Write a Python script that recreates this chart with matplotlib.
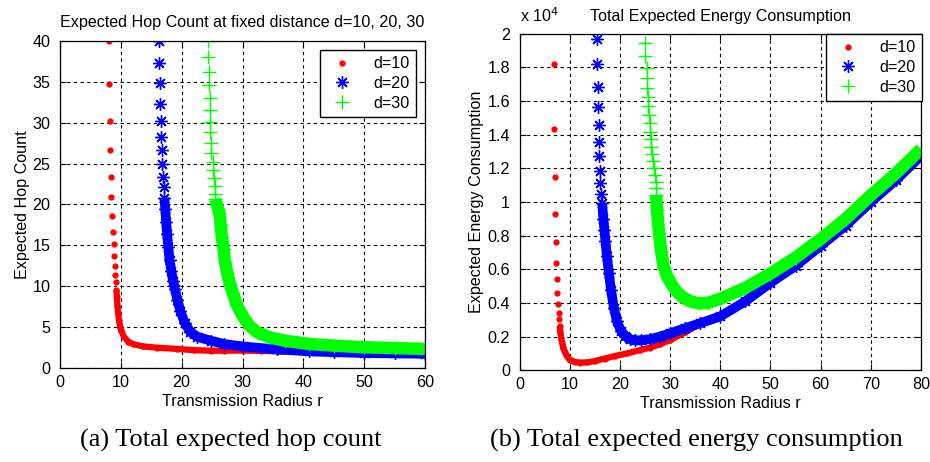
import matplotlib
matplotlib.use("Agg")
import matplotlib.pyplot as plt
from matplotlib.ticker import FuncFormatter

plt.rcParams['font.family'] = ['Liberation Sans', 'DejaVu Sans']

# ---- panel (a): expected hop count vs transmission radius ----
hop_r10 = [8.05, 8.12, 8.18, 8.24, 8.35, 8.45, 8.6, 8.7, 8.8, 8.9, 9.0, 9.1, 9.2, 9.28,
           9.35, 9.45, 9.55, 9.7, 9.9, 10.1, 10.5, 11.2, 12, 13.7, 16, 19.2, 22, 24.8, 27,
           30, 33, 36, 40, 45, 50, 55, 60]
hop_d10 = [40.0, 34.7, 30.2, 26.6, 23.4, 20.9, 18.6, 16.6, 15.1, 13.7, 12.4, 11.3, 10.5, 9.5,
           8.6, 7.6, 6.7, 5.8, 5.0, 4.5, 3.8, 3.2, 2.9, 2.6, 2.45, 2.3, 2.15, 2.08, 2.08,
           2.1, 2.05, 2.0, 1.95, 1.85, 1.8, 1.7, 1.65]

hop_r20 = [16.2, 16.3, 16.4, 16.45, 16.6, 16.65, 16.75, 16.8, 16.95, 17.05, 17.15,
           17.3, 17.45, 17.6, 17.8, 18.0, 18.3, 18.6, 18.9, 19.3, 19.8, 20.5, 21.4, 22.5,
           24.8, 27, 30, 35.6, 41, 45, 50, 55, 60]
hop_d20 = [40.0, 37.3, 34.8, 32.3, 30.2, 28.3, 26.6, 24.9, 23.4, 22.1, 20.8,
           19.4, 17.8, 16.4, 14.8, 13.2, 11.8, 10.6, 9.6, 8.3, 6.9, 5.5, 4.4, 3.8,
           3.3, 2.9, 2.6, 2.25, 2.0, 1.9, 1.8, 1.75, 1.7]

hop_r30 = [24.4, 24.4, 24.5, 24.5, 24.6, 24.6, 24.7, 24.7, 24.9, 24.9, 25.1, 25.2, 25.3,
           25.4, 25.5, 25.5,
           26.2, 26.4, 26.6, 26.9, 27.1, 27.5, 27.9, 28.4, 29, 29.6, 30.3, 31.2, 32.5,
           34.5, 37, 41, 45, 50, 55, 60]
hop_d30 = [40.0, 38.0, 36.2, 34.6, 33.0, 31.6, 30.1, 28.8, 27.5, 26.3, 25.2, 24.2, 23.2,
           22.2, 21.3, 20.6,
           19.0, 17.5, 16.0, 14.5, 13.0, 11.6, 10.3, 9.2, 7.8, 6.9, 6.0, 5.1, 4.3,
           3.7, 3.3, 2.9, 2.7, 2.5, 2.4, 2.3]

# ---- panel (b): total expected energy consumption ----
en_r10 = [6.8, 6.9, 7.1, 7.15, 7.3, 7.35, 7.4, 7.5, 7.65, 7.8, 7.9, 8.0,
          8.1, 8.3, 8.5, 8.7, 9.0, 9.4, 10.0, 11, 12, 13.5, 15, 17, 19, 21.4, 24, 26,
          28, 30, 33, 36, 40, 45, 50, 55, 60, 65, 70, 75, 80]
en_d10 = [18220, 14360, 11470, 9290, 7640, 6390, 5410, 4580, 3940, 3390, 3030, 2650,
          2290, 1900, 1600, 1350, 1100, 850, 620, 500, 460, 470, 550, 700, 850, 1000, 1200, 1350,
          1550, 1800, 2250, 2780, 3180, 4080, 5180, 6180, 7380, 8580, 9980, 11280, 12720]

en_r20 = [15.45, 15.45, 15.55, 15.7, 15.75, 15.8, 15.85, 15.95, 16.1, 16.3, 16.45,
          16.7, 16.9, 17.1, 17.4, 17.8, 18.2, 18.8, 19.4, 20.2, 21, 22, 23, 24.1, 26, 28,
          30, 33, 36, 40, 45, 50, 55, 60, 65, 70, 75, 80]
en_d20 = [19680, 18180, 16850, 15630, 14570, 13580, 12730, 11860, 11150, 10480, 9920,
          9000, 8340, 7700, 6800, 5760, 4800, 3700, 2900, 2350, 2050, 1850, 1780, 1780, 1850, 2000,
          2200, 2500, 2800, 3200, 4100, 5200, 6200, 7400, 8600, 10000, 11300, 12750]

en_r30 = [25.0, 25.0, 25.3, 25.3, 25.4, 25.55, 25.6, 25.75, 25.9, 25.95, 26.1, 26.2, 26.4,
          26.6, 26.75, 26.95, 27.1, 27.1, 27.2,
          27.4, 27.8, 28.2, 28.7, 29.4, 30.4, 31.4, 32.4, 34, 35.7, 37.5, 40, 45,
          50, 55, 60, 65, 70, 75, 80]
en_d30 = [19430, 18680, 17940, 17350, 16760, 16220, 15700, 15170, 14680, 14180, 13720, 13290,
          12850, 12440, 12000, 11600, 11210, 10810, 10420,
          9500, 8140, 7100, 6160, 5600, 5050, 4650, 4370, 4100, 3980, 4000, 4250, 4900,
          5750, 6700, 7800, 9000, 10400, 11700, 13150]

# index where the markers start to overlap into a solid band
band_a = [14, 11, 16]
band_b = [12, 11, 19]

labels = ['d=10', 'd=20', 'd=30']
colors = ['#ff0000', '#0000ff', '#00ff00']
markers = ['.', (8, 2, 0), '+']
msizes = [7, 9, 10]
bandw = [4.5, 7.0, 9.0]
fs = 11.6

fig = plt.figure(figsize=(9.3, 4.62), dpi=100)
ax1 = fig.add_axes([60 / 930, 1 - 367.7 / 462, 365 / 930, 326.7 / 462])
ax2 = fig.add_axes([519.6 / 930, 1 - 370.3 / 462, 401.4 / 930, 336.6 / 462])


def draw(ax, xs, ys, starts):
    for i, (x, y, k) in enumerate(zip(xs, ys, starts)):
        # markers sit just under their own band so the dense part reads as one stroke
        ax.plot(x, y, linestyle='none', marker=markers[i], color=colors[i],
                markersize=msizes[i], markeredgewidth=1.0, label=labels[i], zorder=2 + 2 * i)
        ax.plot(x[k - 1:], y[k - 1:], color=colors[i], lw=bandw[i], solid_capstyle='butt',
                solid_joinstyle='round', zorder=3 + 2 * i)


def style(ax, pad, anchor):
    ax.grid(True, color='black', linestyle=(0, (3, 3)), linewidth=0.8)
    ax.set_axisbelow(True)
    ax.tick_params(direction='in', top=True, right=True, length=4, labelsize=fs)
    ax.tick_params(axis='y', pad=7)
    ax.tick_params(axis='x', pad=5)
    for s in ax.spines.values():
        s.set_linewidth(0.9)
        s.set_zorder(10)
    leg = ax.legend(loc='upper right', bbox_to_anchor=anchor, fancybox=False,
                    edgecolor='black', framealpha=1, fontsize=fs, borderaxespad=pad,
                    handletextpad=1.0, labelspacing=0.3, handlelength=1.9)
    leg.get_frame().set_linewidth(1.0)
    leg.set_zorder(20)


draw(ax1, [hop_r10, hop_r20, hop_r30], [hop_d10, hop_d20, hop_d30], band_a)
ax1.set_xlim(0, 60)
ax1.set_ylim(0, 40)
ax1.set_xticks(range(0, 61, 10))
ax1.set_yticks(range(0, 41, 5))
style(ax1, 0.55, (1, 1))
ax1.set_title('Expected Hop Count at fixed distance d=10, 20, 30', fontsize=fs, pad=10)
ax1.set_xlabel('Transmission Radius r', fontsize=fs, labelpad=3)
ax1.set_ylabel('Expected Hop Count', fontsize=fs, labelpad=2)

draw(ax2, [en_r10, en_r20, en_r30], [en_d10, en_d20, en_d30], band_b)
ax2.set_xlim(0, 80)
ax2.set_ylim(0, 20000)
ax2.set_xticks(range(0, 81, 10))
ax2.set_yticks(range(0, 20001, 2000))
ax2.yaxis.set_major_formatter(FuncFormatter(lambda v, p: '%g' % (v / 1e4)))
style(ax2, 0.0, (1.003, 1.0))
ax2.set_title('Total Expected Energy Consumption', fontsize=fs, pad=9)
ax2.set_xlabel('Transmission Radius r', fontsize=fs, labelpad=3)
ax2.set_ylabel('Expected Energy Consumption', fontsize=fs, labelpad=2)
ax2.text(0.0, 1.025, 'x 10$^4$', transform=ax2.transAxes, fontsize=fs, ha='left', va='bottom')

fig.text(231 / 930, 1 - 440 / 462, '(a) Total expected hop count', family='Liberation Serif',
         fontsize=19, ha='center', va='center')
fig.text(696 / 930, 1 - 440 / 462, '(b) Total expected energy consumption',
         family='Liberation Serif', fontsize=19, ha='center', va='center')

fig.savefig('out.png', dpi=100, facecolor='white')
